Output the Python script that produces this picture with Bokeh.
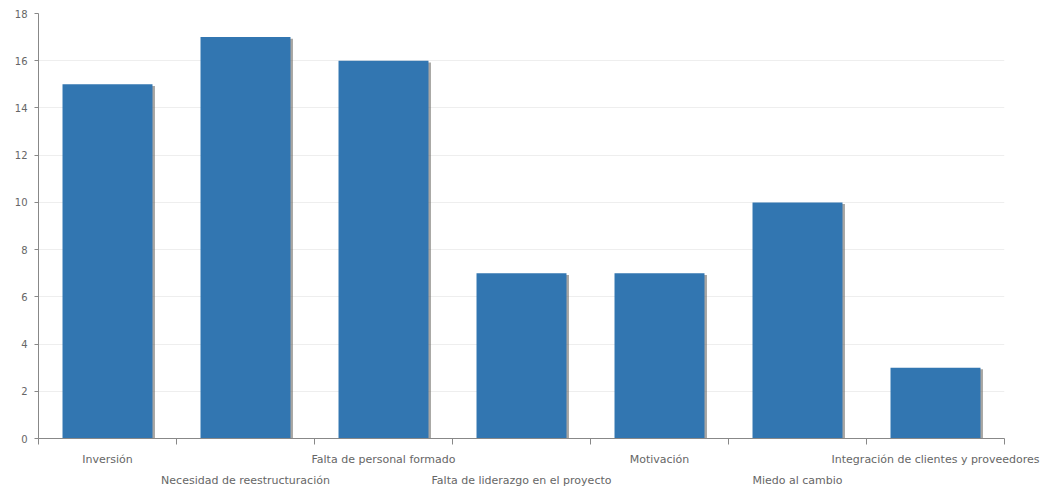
from bokeh.plotting import figure
from bokeh.models import Range1d, FixedTicker, ColumnDataSource, LinearAxis
from bokeh.transform import dodge
from bokeh.embed import file_html
from bokeh.resources import INLINE

categories = ["Inversión", "Necesidad de reestructuración", "Falta de personal formado",
              "Falta de liderazgo en el proyecto", "Motivación", "Miedo al cambio",
              "Integración de clientes y proveedores"]
values = [15, 17, 16, 7, 7, 10, 3]
y_ticks = [0, 2, 4, 6, 8, 10, 12, 14, 16, 18]

n = len(categories)
xs = [i + 0.5 for i in range(n)]
src = ColumnDataSource(dict(x=xs, top=values, stop=[v - 0.07 for v in values]))

p = figure(width=1042, height=493, output_backend="svg", toolbar_location=None,
           x_range=Range1d(0, n), y_range=Range1d(0, max(y_ticks)),
           min_border_left=38, min_border_right=38, min_border_top=13, min_border_bottom=55,
           x_axis_location=None)
p.outline_line_color = None
p.background_fill_color = "white"

# shadow
p.vbar(x=dodge("x", 0.018, range=p.x_range), top="stop", width=0.652, source=src,
       fill_color="#6e6a66", fill_alpha=0.6, line_color=None)
p.vbar(x="x", top="top", width=0.652, source=src, fill_color="#3276B1", line_color=None)

p.xgrid.grid_line_color = None
p.ygrid.grid_line_color = "#eeeeee"
p.ygrid.ticker = FixedTicker(ticks=y_ticks)

p.yaxis.ticker = FixedTicker(ticks=y_ticks)
p.yaxis.axis_line_color = "#888888"
p.yaxis.major_tick_line_color = "#888888"
p.yaxis.major_tick_out = 4
p.yaxis.major_tick_in = 0
p.yaxis.minor_tick_line_color = None
p.yaxis.major_label_text_font = "DejaVu Sans"
p.yaxis.major_label_text_font_size = "10px"
p.yaxis.major_label_text_color = "#666666"
p.yaxis.major_label_standoff = 7

even_idx = [i for i in range(n) if i % 2 == 0]
odd_idx = [i for i in range(n) if i % 2 == 1]

ax1 = LinearAxis(ticker=FixedTicker(ticks=[xs[i] for i in even_idx],
                                    minor_ticks=list(range(n + 1))),
                 major_label_overrides={xs[i]: categories[i] for i in even_idx})
ax1.axis_line_color = "#888888"
ax1.major_tick_line_color = None
ax1.major_tick_out = 0
ax1.major_tick_in = 0
ax1.minor_tick_line_color = "#888888"
ax1.minor_tick_out = 6
ax1.minor_tick_in = 0
ax1.major_label_standoff = 8
ax1.major_label_text_font = "DejaVu Sans"
ax1.major_label_text_font_size = "11px"
ax1.major_label_text_color = "#666666"

ax2 = LinearAxis(ticker=FixedTicker(ticks=[xs[i] for i in odd_idx], minor_ticks=[]),
                 major_label_overrides={xs[i]: categories[i] for i in odd_idx})
ax2.axis_line_color = None
ax2.major_tick_line_color = None
ax2.major_tick_out = 0
ax2.major_tick_in = 0
ax2.minor_tick_line_color = None
ax2.major_label_standoff = 5
ax2.major_label_text_font = "DejaVu Sans"
ax2.major_label_text_font_size = "11px"
ax2.major_label_text_color = "#666666"

p.add_layout(ax1, "below")
p.add_layout(ax2, "below")

open("out.html", "w").write(file_html(p, INLINE))
